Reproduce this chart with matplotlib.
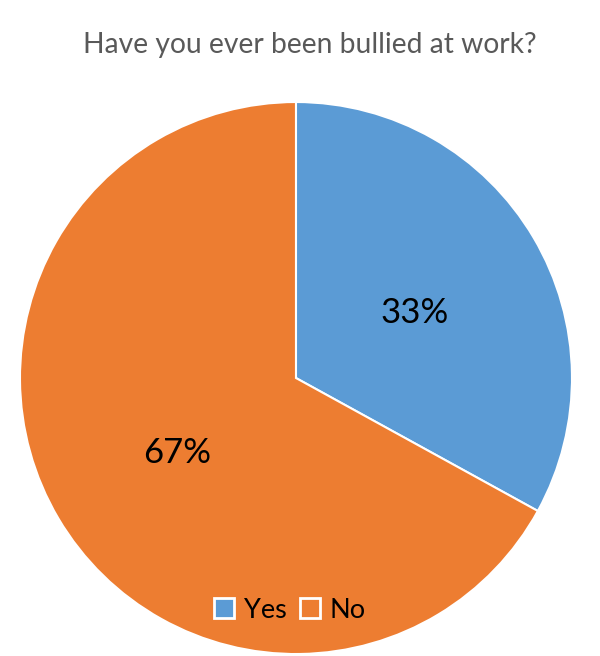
import matplotlib.pyplot as plt
from matplotlib.patches import Patch

# Survey data
labels = ['Yes', 'No']
values = [33, 67]
colors = ['#5B9BD5', '#ED7D31']

plt.rcParams['font.family'] = ['Lato', 'DejaVu Sans']

fig = plt.figure(figsize=(6, 6.56), dpi=100)
fig.patch.set_facecolor('white')

ax = fig.add_axes([0.0333, 0.003, 0.92, 0.8415])
wedges, texts, autotexts = ax.pie(
    values, colors=colors, startangle=90, counterclock=False,
    autopct='%1.0f%%', pctdistance=0.5,
    wedgeprops=dict(edgecolor='white', linewidth=1.5),
    textprops=dict(fontsize=25, color='black'))
# nudge labels down a little, like the original
for t in autotexts:
    x, y = t.get_position()
    t.set_position((x, y - 0.018))
ax.set_xlim(-1, 1)
ax.set_ylim(-1, 1)
ax.set_aspect('equal')

fig.text(0.517, 0.931, 'Have you ever been bullied at work?',
         ha='center', va='center', fontsize=20.3, color='#595959')

handles = [Patch(facecolor=c, edgecolor='white', linewidth=2) for c in colors]
fig.legend(handles, labels, loc='center', bbox_to_anchor=(0.483, 0.070),
           ncol=2, frameon=False, fontsize=19.5, handlelength=0.75, handleheight=0.75,
           handletextpad=0.35, columnspacing=0.5)

plt.savefig('out.png', dpi=100)
